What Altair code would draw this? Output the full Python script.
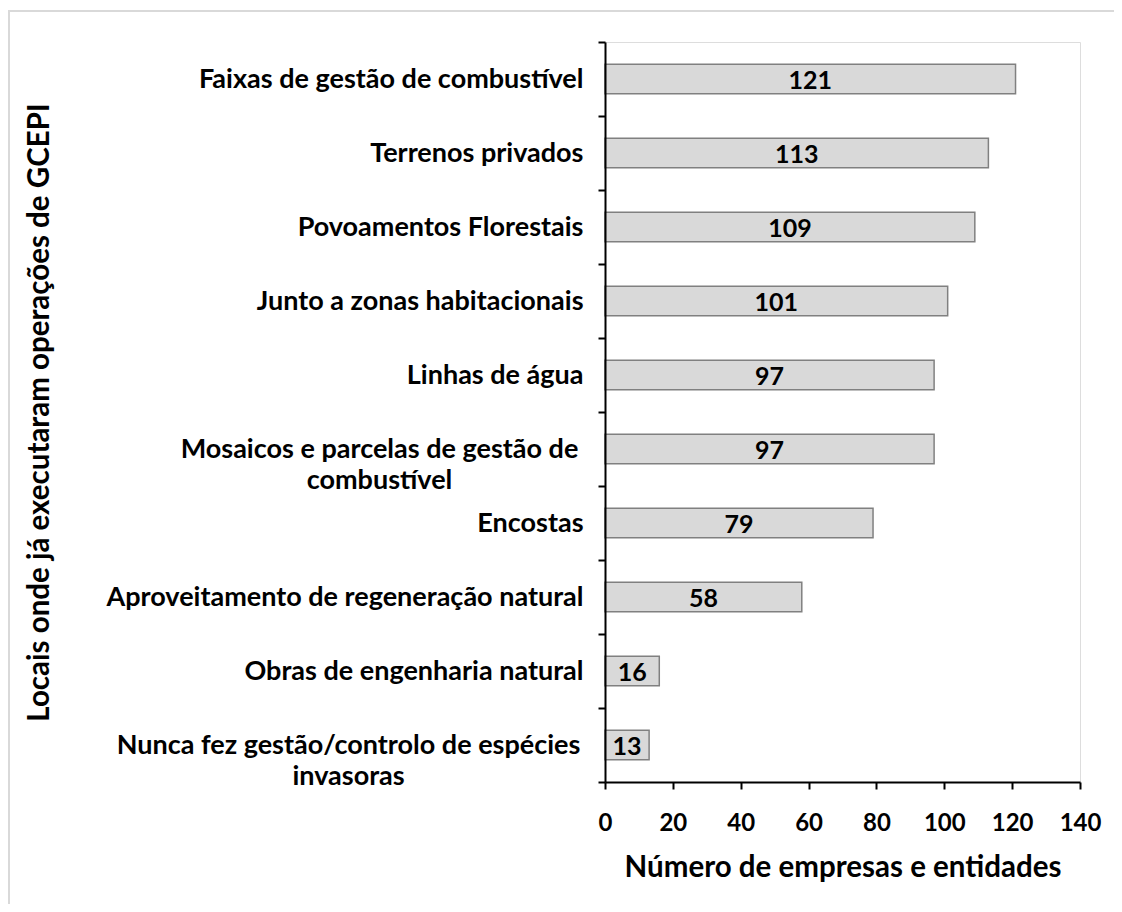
import altair as alt
import pandas as pd

categories = [
    "Faixas de gestão de combustível",
    "Terrenos privados",
    "Povoamentos Florestais",
    "Junto a zonas habitacionais",
    "Linhas de água",
    "Mosaicos e parcelas de gestão de|combustível",
    "Encostas",
    "Aproveitamento de regeneração natural",
    "Obras de engenharia natural",
    "Nunca fez gestão/controlo de espécies|invasoras",
]
values = [121, 113, 109, 101, 97, 97, 79, 58, 16, 13]
x_ticks = [0, 20, 40, 60, 80, 100, 120, 140]

df = pd.DataFrame({"cat": categories, "val": values})

FONT = "Lato"

y_enc = alt.Y(
    "cat:N",
    sort=categories,
    scale=alt.Scale(domain=categories, paddingInner=0, paddingOuter=0),
    axis=alt.Axis(
        title="Locais onde já executaram operações de GCEPI",
        titleFont=FONT, titleFontSize=29.5, titleFontWeight="bold", titleColor="black",
        titleAngle=270, titleX=-566, titleY=370, titleAlign="center", titleBaseline="middle",
        labelFont=FONT, labelFontSize=27, labelFontWeight="bold", labelColor="black",
        labelExpr="split(datum.label, '|')", labelLineHeight=31,
        labelAlign=alt.ConditionalAxisLabelAlign(
            condition={"test": "indexof(datum.label, '|') >= 0", "value": "center"}, value="right"
        ),
        labelPadding=alt.ConditionalAxisNumber(
            condition=[
                {"test": "indexof(datum.label, 'Mosaicos') >= 0", "value": 219},
                {"test": "indexof(datum.label, 'Nunca') >= 0", "value": 250},
            ],
            value=15,
        ),
        labelLimit=700,
        domainColor="black", domainWidth=2, tickColor="black", tickWidth=2, tickSize=7,
        tickBand="extent", zindex=1,
    ),
)

x_enc = alt.X(
    "val:Q",
    scale=alt.Scale(domain=[0, 140], nice=False),
    axis=alt.Axis(
        title="Número de empresas e entidades", values=x_ticks,
        titleFont=FONT, titleFontSize=29.5, titleFontWeight="bold", titleColor="black",
        titleY=94, titleBaseline="alphabetic",
        labelFont=FONT, labelFontSize=24, labelFontWeight="bold", labelColor="black",
        labelPadding=22, labelFlush=False,
        domainColor="black", domainWidth=2, tickColor="black", tickWidth=2, tickSize=7,
        grid=False, zindex=1,
    ),
)

frame = alt.Chart(df).mark_rect(
    fill="white", fillOpacity=0, stroke="#d9d9d9", strokeWidth=2, clip=False
).encode(
    x=alt.value(-596), x2=alt.value(600), y=alt.value(-31), y2=alt.value(900)
)

bars = alt.Chart(df).mark_bar(
    fill="#d9d9d9", stroke="#808080", strokeWidth=1.5, height={"band": 0.4}
).encode(x=x_enc, y=y_enc)

labels = alt.Chart(df).transform_calculate(
    half="datum.val / 2"
).mark_text(
    font=FONT, fontSize=25, fontWeight="bold", color="black", baseline="middle", dy=2
).encode(
    x=alt.X("half:Q"),
    y=alt.Y("cat:N", sort=categories),
    text=alt.Text("val:Q"),
)

chart = alt.layer(frame.transform_filter("datum.val == 121"), bars, labels).properties(
    width=475, height=740,
    autosize=alt.AutoSizeParams(type="none"),
    padding={"left": 597, "top": 34, "right": 34, "bottom": 122},
).configure_view(stroke=None).configure(background="white")

chart.save("out.html", embed_options={"renderer": "svg", "actions": False})
